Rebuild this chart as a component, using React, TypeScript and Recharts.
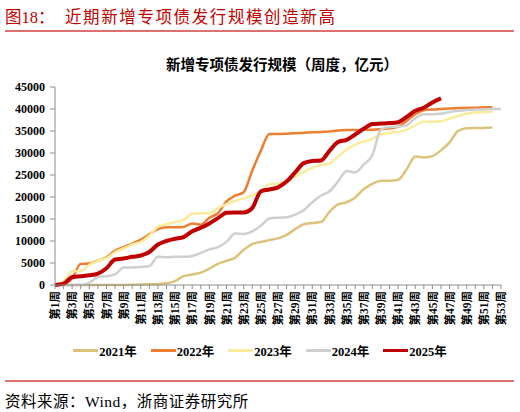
import React from 'react'
import { LineChart, Line, XAxis, YAxis, Legend } from 'recharts'

const weeks = Array.from({ length: 53 }, (_, i) => `第${i + 1}周`)

const y2021 = [
  0, 0, 0, 0, 0, 0, 0, 0, 0, 50, 100, 150, 250, 400, 900, 2000, 2400, 2800, 3700, 4800,
  5500, 6200, 8000, 9300, 9800, 10200, 10600, 11400, 12700, 13800, 14100, 14300, 16600, 18300, 18800, 19900,
  21800, 23000, 23700, 23700, 23900, 26300, 29200, 29000, 29300, 30600, 32400, 35000, 35600, 35700, 35700, 35800,
]
const y2022 = [
  0, 200, 1500, 4800, 4900, 5500, 6300, 7800, 8600, 9400, 10300, 11500, 12700, 13100, 13100, 13200, 14000, 13700,
  15300, 16300, 19000, 20300, 21100, 26000, 30500, 34300, 34300, 34400, 34500, 34600, 34700, 34800, 34900, 35100,
  35200, 35200, 35300, 35300, 35400, 35600, 36000, 37300, 38800, 39700, 39900, 40000, 40100, 40200, 40300, 40300,
  40400, 40400,
]
const y2023 = [
  0, 800, 3100, 3100, 4600, 5500, 6100, 7500, 8300, 9200, 9800, 11200, 13200, 13800, 14300, 14800, 16200, 16300,
  16300, 17500, 18400, 19100, 19700, 20400, 21300, 22900, 23000, 23600, 24700, 25700, 26600, 27300, 27600, 29200,
  30800, 31900, 32600, 33200, 34200, 34600, 34800, 35300, 36300, 37100, 37100, 37200, 37800, 38400, 38900, 39200,
  39300, 39400,
]
const y2024 = [
  0, 0, 0, 0, 500, 1800, 2000, 2400, 4000, 4000, 4100, 4300, 6400, 6300, 6400, 6400, 6600, 7300, 8100, 8600,
  9800, 11700, 11600, 12200, 13500, 15100, 15300, 15400, 16000, 17000, 18800, 20300, 21300, 23500, 25900, 25600,
  27400, 29500, 35300, 35900, 36000, 36300, 37900, 38800, 38800, 38900, 39300, 39600, 39800, 39900, 39900, 40000,
  40000,
]
const y2025 = [
  0, 300, 1800, 2000, 2200, 2600, 3800, 5800, 6000, 6400, 6700, 7500, 9200, 10000, 10500, 10900, 12200, 13000,
  14000, 15200, 16400, 16500, 16500, 17500, 21300, 21700, 22200, 23500, 25600, 27700, 28200, 28300, 30500, 32500,
  33000, 34200, 35500, 36600, 36700, 36800, 37000, 38200, 39600, 40300, 41500, 42400,
]
const yTicks = [0, 5000, 10000, 15000, 20000, 25000, 30000, 35000, 40000, 45000]

const series = [
  { key: 'y2021', name: '2021年', color: '#DCC27A', width: 2.5 },
  { key: 'y2022', name: '2022年', color: '#ED7D31', width: 2.5 },
  { key: 'y2023', name: '2023年', color: '#FAEC9C', width: 2.5 },
  { key: 'y2024', name: '2024年', color: '#CFCFCF', width: 2.5 },
  { key: 'y2025', name: '2025年', color: '#C00000', width: 4 },
]

const data = weeks.map((week, i) => ({
  week,
  y2021: y2021[i] ?? null,
  y2022: y2022[i] ?? null,
  y2023: y2023[i] ?? null,
  y2024: y2024[i] ?? null,
  y2025: y2025[i] ?? null,
}))

const serif = "'Liberation Serif', 'Times New Roman', 'Noto Sans CJK SC', serif"

function WeekTick(props: any) {
  const { x, y, payload, index } = props
  if (index % 2 !== 0) return null
  return (
    <g transform={`translate(${x},${y}) rotate(-90)`}>
      <text textAnchor="end" dy="0.36em" fontSize={11.5} fontWeight="bold" fontFamily={serif} fill="#000">
        {payload.value}
      </text>
    </g>
  )
}

function LegendBox() {
  return (
    <div style={{ display: 'flex', justifyContent: 'center', gap: 14, width: 520, height: 20, alignItems: 'center' }}>
      {series.map((s) => (
        <div key={s.key} style={{ display: 'flex', alignItems: 'center' }}>
          <span style={{ display: 'inline-block', width: 25, height: 3, background: s.color, marginRight: 1 }} />
          <span style={{ fontFamily: serif, fontWeight: 'bold', fontSize: 12.5, color: '#000' }}>{s.name}</span>
        </div>
      ))}
    </div>
  )
}

export default function App() {
  return (
    <div style={{ position: 'absolute', left: 0, top: 0, width: 520, height: 412, background: '#fff', fontFamily: serif }}>
      <div style={{ position: 'absolute', left: 5, top: 4, fontSize: 16.5, color: '#C00000', whiteSpace: 'pre' }}>
        <span>图18：</span>
        <span style={{ position: 'absolute', left: 60, top: 0, letterSpacing: 1.6 }}>近期新增专项债发行规模创造新高</span>
      </div>
      <div style={{ position: 'absolute', left: 5, top: 30, width: 509, height: 1.5, background: '#E07070' }} />
      <div
        style={{
          position: 'absolute',
          left: 0,
          width: 564,
          top: 53,
          textAlign: 'center',
          fontSize: 14.5,
          fontWeight: 'bold',
          fontFamily: "'Noto Sans CJK SC', sans-serif",
        }}
      >
        新增专项债发行规模（周度，亿元）
      </div>
      <div style={{ position: 'absolute', left: 0, top: 0 }}>
        <LineChart width={520} height={412} data={data} margin={{ top: 87, right: 19, bottom: 52, left: 10 }}>
          <XAxis
            dataKey="week"
            scale="point"
            padding={{ left: 0, right: 0 }}
            interval={0}
            height={55}
            tick={<WeekTick />}
            tickSize={4}
            stroke="#8C8C8C"
          />
          <YAxis
            domain={[0, 45000]}
            ticks={yTicks}
            width={45}
            tickSize={5}
            tickMargin={5}
            stroke="#8C8C8C"
            tick={{ fontSize: 12, fontWeight: 'bold', fill: '#000', fontFamily: serif }}
          />
          <Legend
            verticalAlign="bottom"
            height={20}
            wrapperStyle={{ left: 0, width: 520 }}
            content={<LegendBox />}
          />
          {series.map((s) => (
            <Line
              key={s.key}
              type="monotone"
              dataKey={s.key}
              name={s.name}
              stroke={s.color}
              strokeWidth={s.width}
              dot={false}
              connectNulls={false}
              isAnimationActive={false}
            />
          ))}
        </LineChart>
      </div>
      <div style={{ position: 'absolute', left: 5, top: 380, width: 509, height: 1.5, background: '#E07070' }} />
      <div style={{ position: 'absolute', left: 5, top: 389, fontSize: 15.5, color: '#000', letterSpacing: 0.5 }}>
        资料来源：Wind，浙商证券研究所
      </div>
    </div>
  )
}
